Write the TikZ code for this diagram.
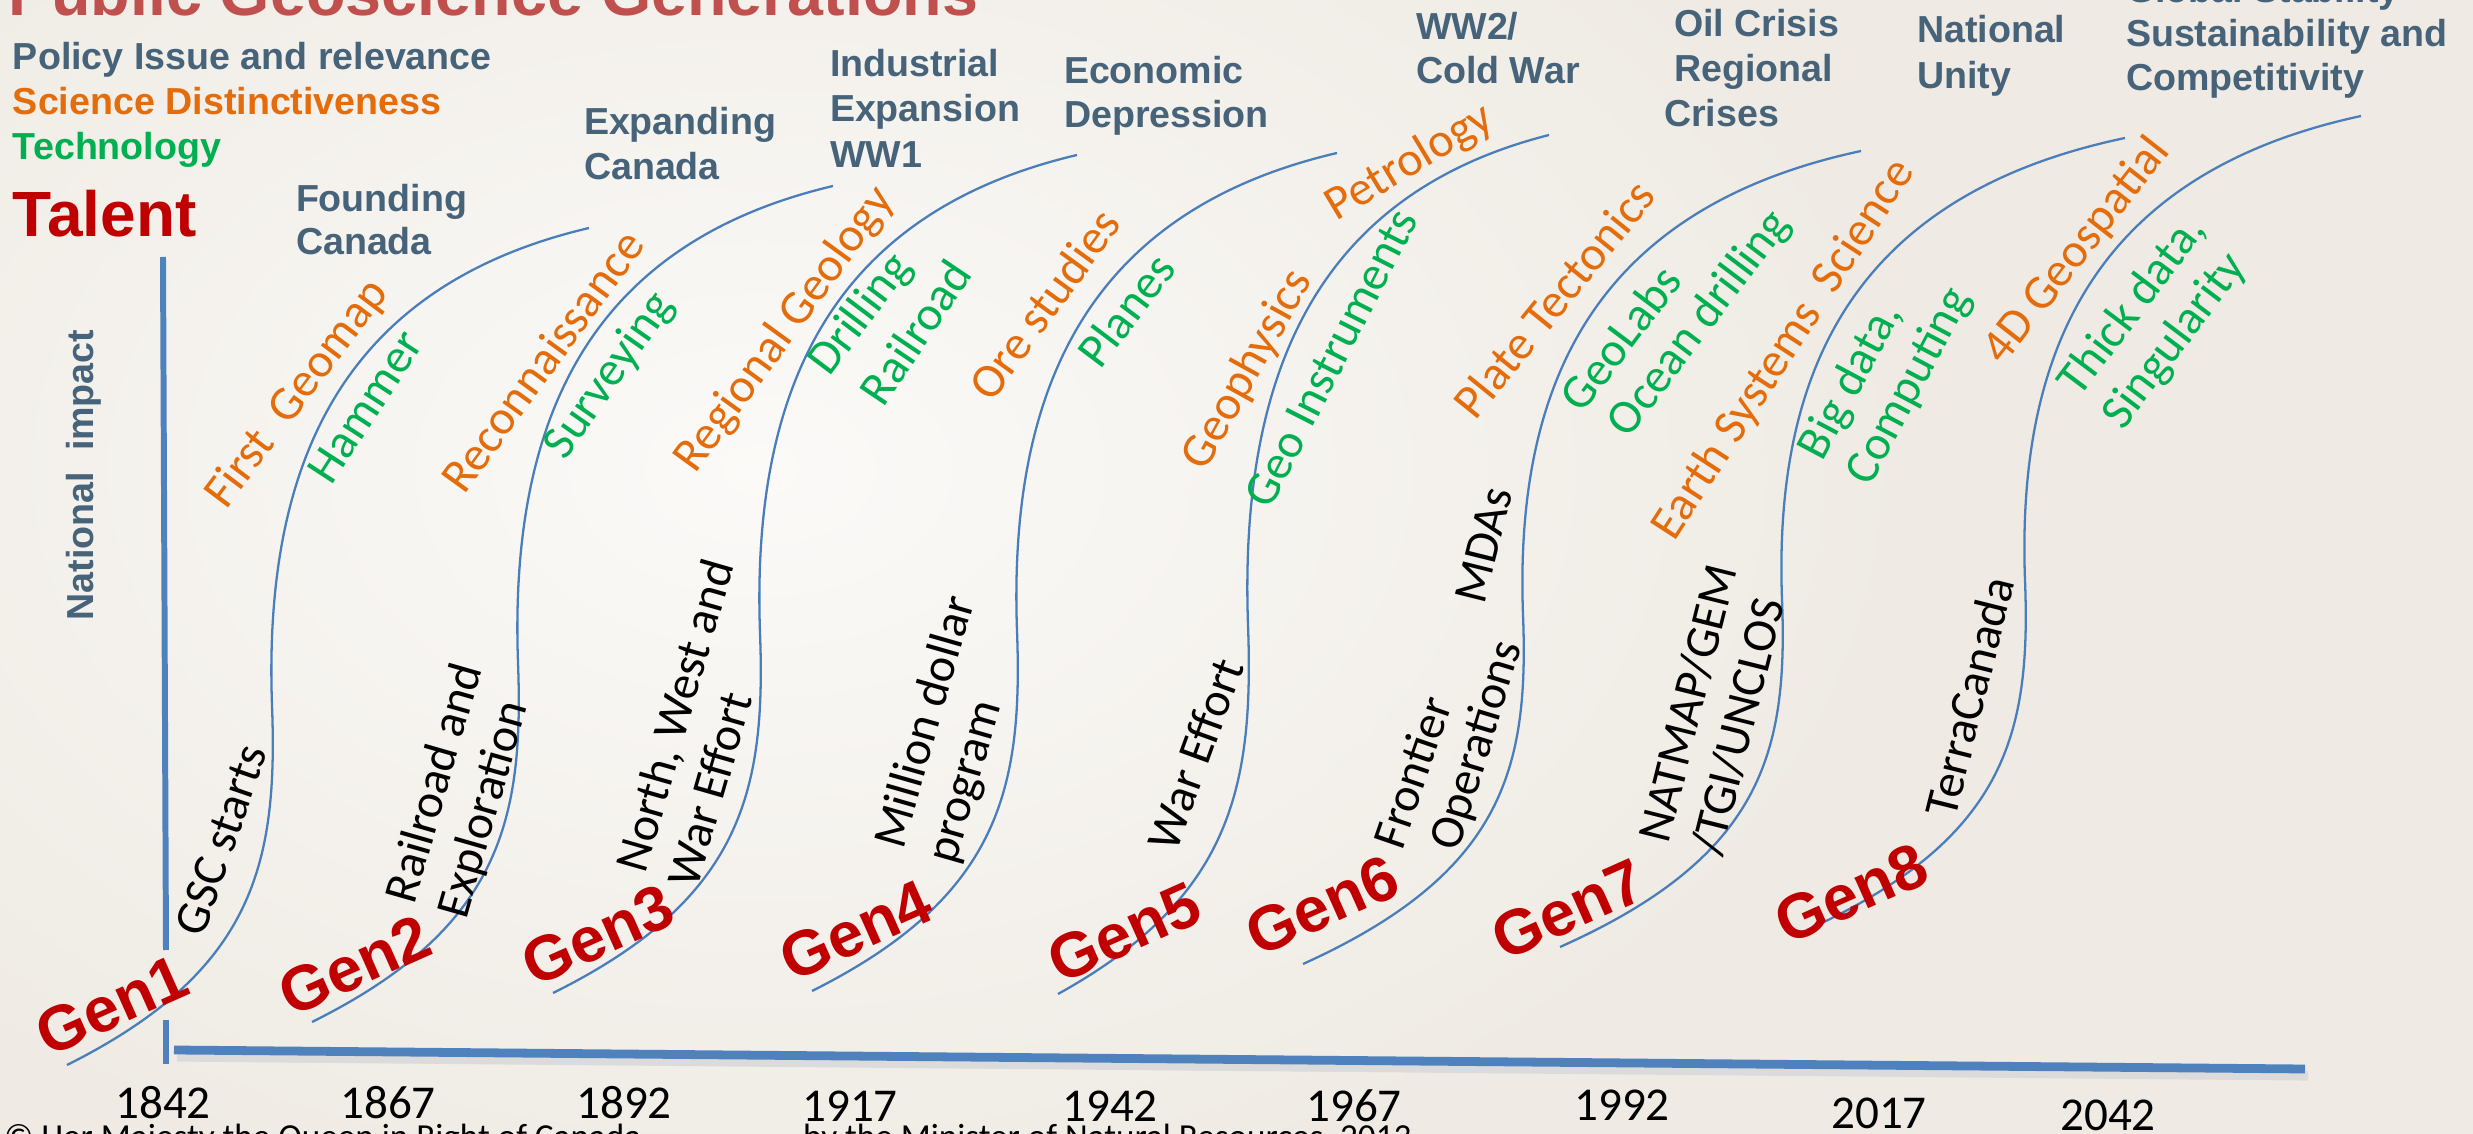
\documentclass[tikz,border=0pt]{standalone}
\usepackage{fontspec}
\setmainfont{Liberation Sans}
\newfontfamily\bodyfont{Carlito}
\usetikzlibrary{calc}

\definecolor{slate}{RGB}{70,99,122}
\definecolor{sciorange}{RGB}{228,108,10}
\definecolor{techgreen}{RGB}{0,176,80}
\definecolor{talentred}{RGB}{192,0,0}
\definecolor{titlered}{RGB}{192,80,77}
\definecolor{axisblue}{RGB}{79,129,189}
\definecolor{curveblue}{RGB}{74,126,187}
\definecolor{paper}{RGB}{239,235,228}
\definecolor{paperlight}{RGB}{251,250,248}

% S-shaped generation curve: name, start (x,y), x of the steep middle part, end (x,y)
\newcommand\gencurve[6]{%
  \pgfmathsetmacro\gH{#3-#6}%
  \pgfmathsetmacro\gMy{#3-0.43*\gH}%
  \pgfmathsetmacro\gWa{#4-#2}%
  \pgfmathsetmacro\gWb{#5-#4}%
  \pgfmathsetmacro\gHu{0.57*\gH}%
  \pgfmathsetmacro\gAx{#2+0.913*\gWa}%
  \pgfmathsetmacro\gAy{#3-0.26*0.43*\gH}%
  \pgfmathsetmacro\gBx{#4+6}%
  \pgfmathsetmacro\gBy{\gMy+0.44*0.43*\gH}%
  \pgfmathsetmacro\gCx{#4-9}%
  \pgfmathsetmacro\gCy{\gMy-0.526*\gHu}%
  \pgfmathsetmacro\gDx{#4+0.244*\gWb}%
  \pgfmathsetmacro\gDy{#6+0.118*\gHu}%
  \coordinate (#1-a) at (#2,#3);
  \coordinate (#1-m) at (#4,\gMy);
  \coordinate (#1-b) at (#5,#6);
  \draw[gencurve] (#1-a) .. controls (\gAx,\gAy) and (\gBx,\gBy) .. (#1-m)
    .. controls (\gCx,\gCy) and (\gDx,\gDy) .. (#1-b);
}

\begin{document}
\begin{tikzpicture}[x=0.1mm,y=-0.1mm,
  every node/.style={inner sep=0pt,outer sep=0pt},
  heading/.style={font=\fontsize{10.7}{12.8}\selectfont\bfseries,anchor=base west},
  policy/.style={heading,text=slate},
  gen/.style={font=\fontsize{18}{20}\selectfont\bfseries,text=talentred,rotate=24},
  lbl/.style={font=\bodyfont\fontsize{13.7}{15.4}\selectfont,align=left},
  event/.style={lbl,text=black},
  sci/.style={lbl,text=sciorange},
  tech/.style={lbl,text=techgreen},
  year/.style={font=\bodyfont\fontsize{13.4}{15}\selectfont},
  gencurve/.style={draw=curveblue,line width=0.65pt},
  axisline/.style={draw=axisblue,line cap=butt},
]
\useasboundingbox (0,0) rectangle (2473,1134);
\begin{scope}
\clip (0,0) rectangle (2473,1134);

% paper background
\fill[paper] (0,0) rectangle (2473,1134);
\shade[inner color=paperlight,outer color=paper] (760,470) ellipse (1150 and 760);

% axes
\coordinate (vtop) at (163,257);
\coordinate (vgapa) at (166,950);
\coordinate (vgapb) at (166,1020);
\coordinate (vbot) at (166,1064);
\coordinate (hleft) at (174,1050);
\coordinate (hright) at (2305,1069);
\draw[black!14,line width=2.6pt] ($(hleft)+(3,7)$) -- ($(hright)+(3,7)$);
\draw[axisline,line width=1.7pt] (vtop) -- (vgapa);
\draw[axisline,line width=1.7pt] (vgapb) -- (vbot);
\draw[axisline,line width=2.5pt] (hleft) -- (hright);

% generation curves
\gencurve{c1}{67}{1065}{272}{589}{228}
\gencurve{c2}{312}{1022}{518}{833}{186}
\gencurve{c3}{553}{993}{760}{1077}{155}
\gencurve{c4}{812}{991}{1017}{1337}{153}
\gencurve{c5}{1058}{994}{1248}{1549}{135}
\gencurve{c6}{1303}{964}{1523}{1861}{151}
\gencurve{c7}{1560}{947}{1782}{2125}{138}
\gencurve{c8}{1807}{930}{2025}{2361}{116}

% title and legend
\node[anchor=base west,font=\fontsize{18.4}{20}\selectfont\bfseries,text=titlered] (title) at (8,16) {Public Geoscience Generations};
\node[policy] (legpolicy) at (13,70) {Policy Issue and relevance};
\node[heading,text=sciorange] (legscience) at (13,115) {Science Distinctiveness};
\node[heading,text=techgreen] (legtech) at (13,160) {Technology};
\node[anchor=base west,font=\fontsize{18.2}{20}\selectfont\bfseries,text=talentred] (talent) at (13,237) {Talent};
\node[font=\fontsize{10.7}{12.8}\selectfont\bfseries,text=slate,rotate=90] (natimpact) at (84,475) {National~~impact};

% policy issues
\node[policy] (p1a) at (296,212) {Founding};
\node[policy] (p1b) at (296,255) {Canada};
\node[policy] (p2a) at (584,135) {Expanding};
\node[policy] (p2b) at (584,180) {Canada};
\node[policy] (p3a) at (830,77) {Industrial};
\node[policy] (p3b) at (830,122) {Expansion};
\node[policy] (p3c) at (830,168) {WW1};
\node[policy] (p4a) at (1064,84) {Economic};
\node[policy] (p4b) at (1064,128) {Depression};
\node[policy] (p5a) at (1416,40) {WW2/};
\node[policy] (p5b) at (1416,84) {Cold War};
\node[policy] (p6a) at (1674,37) {Oil Crisis};
\node[policy] (p6b) at (1674,82) {Regional};
\node[policy] (p6c) at (1664,127) {Crises};
\node[policy] (p7a) at (1917,43) {National};
\node[policy] (p7b) at (1917,89) {Unity};
\node[policy] (p8a) at (2126,3) {Global Stability};
\node[policy] (p8b) at (2126,47) {Sustainability and};
\node[policy] (p8c) at (2126,91) {Competitivity};

% science and technology
\node[sci,rotate=53] (firstgeo) at (298,394) {First\ \ Geomap};
\node[tech,rotate=57] (hammer) at (365,407) {Hammer};
\node[sci,rotate=54] (recon) at (542,361) {Reconnaissance};
\node[tech,rotate=55] (survey) at (610,376) {Surveying};
\node[sci,rotate=54] (regional) at (785,330) {Regional Geology};
\node[tech,rotate=53] (drilling) at (861,315) {Drilling};
\node[tech,rotate=56] (railroad) at (915,332) {Railroad};
\node[sci,rotate=54] (ore) at (1044,304) {Ore studies};
\node[tech,rotate=53] (planes) at (1126,310) {Planes};
\node[sci,rotate=61] (geophys) at (1248,370) {Geophysics};
\node[tech,rotate=63] (geoinst) at (1331,358) {Geo Instruments};
\node[sci,rotate=31] (petro) at (1410,163) {Petrology};
\node[sci,rotate=51] (plate) at (1554,299) {Plate Tectonics};
\node[tech,rotate=53] (geolabs) at (1620,338) {GeoLabs};
\node[tech,rotate=53] (ocean) at (1700,324) {Ocean drilling};
\node[sci,rotate=57] (earthsys) at (1784,350) {Earth Systems\ \ Science};
\node[tech,rotate=62] (bigdata) at (1886,374) {Big data,\\Computing};
\node[sci,rotate=52] (fourd) at (2077,251) {4D Geospatial};
\node[tech,rotate=53] (thick) at (2155,323) {Thick data,\\Singularity};

% programs and events
\node[event,rotate=71] (gsc) at (221,840) {GSC starts};
\node[event,rotate=74] (railexp) at (462,791) {Railroad and\\Exploration};
\node[event,rotate=74] (north) at (700,723) {North, West and\\War Effort};
\node[event,rotate=74] (million) at (953,730) {Million dollar\\program};
\node[event,rotate=70] (wareff) at (1195,754) {War Effort};
\node[event,rotate=71] (frontier) at (1412,772) {Frontier};
\node[event,rotate=73] (operations) at (1478,746) {Operations};
\node[event,rotate=76] (mdas) at (1484,545) {MDAs};
\node[event,rotate=76] (natmap) at (1714,710) {NATMAP/GEM\\/TGI/UNCLOS};
\node[event,rotate=76] (terra) at (1969,697) {TerraCanada};

% generations
\node[gen] (gen1) at (112,1005) {Gen1};
\node[gen] (gen2) at (355,965) {Gen2};
\node[gen] (gen3) at (598,935) {Gen3};
\node[gen] (gen4) at (856,930) {Gen4};
\node[gen] (gen5) at (1124,932) {Gen5};
\node[gen] (gen6) at (1322,905) {Gen6};
\node[gen] (gen7) at (1568,909) {Gen7};
\node[gen] (gen8) at (1851,893) {Gen8};

% years
\node[year] (y1842) at (163,1103) {1842};
\node[year] (y1867) at (388,1103) {1867};
\node[year] (y1892) at (624,1103) {1892};
\node[year] (y1917) at (850,1106) {1917};
\node[year] (y1942) at (1110,1106) {1942};
\node[year] (y1967) at (1354,1106) {1967};
\node[year] (y1992) at (1622,1105) {1992};
\node[year] (y2017) at (1879,1113) {2017};
\node[year] (y2042) at (2108,1115) {2042};

% credit line
\node[anchor=base west,font=\bodyfont\fontsize{10}{12}\selectfont] (credita) at (4,1148) {© Her Majesty the Queen in Right of Canada};
\node[anchor=base west,font=\bodyfont\fontsize{10}{12}\selectfont] (creditb) at (803,1148) {by the Minister of Natural Resources, 2013};
\end{scope}
\end{tikzpicture}
\end{document}
